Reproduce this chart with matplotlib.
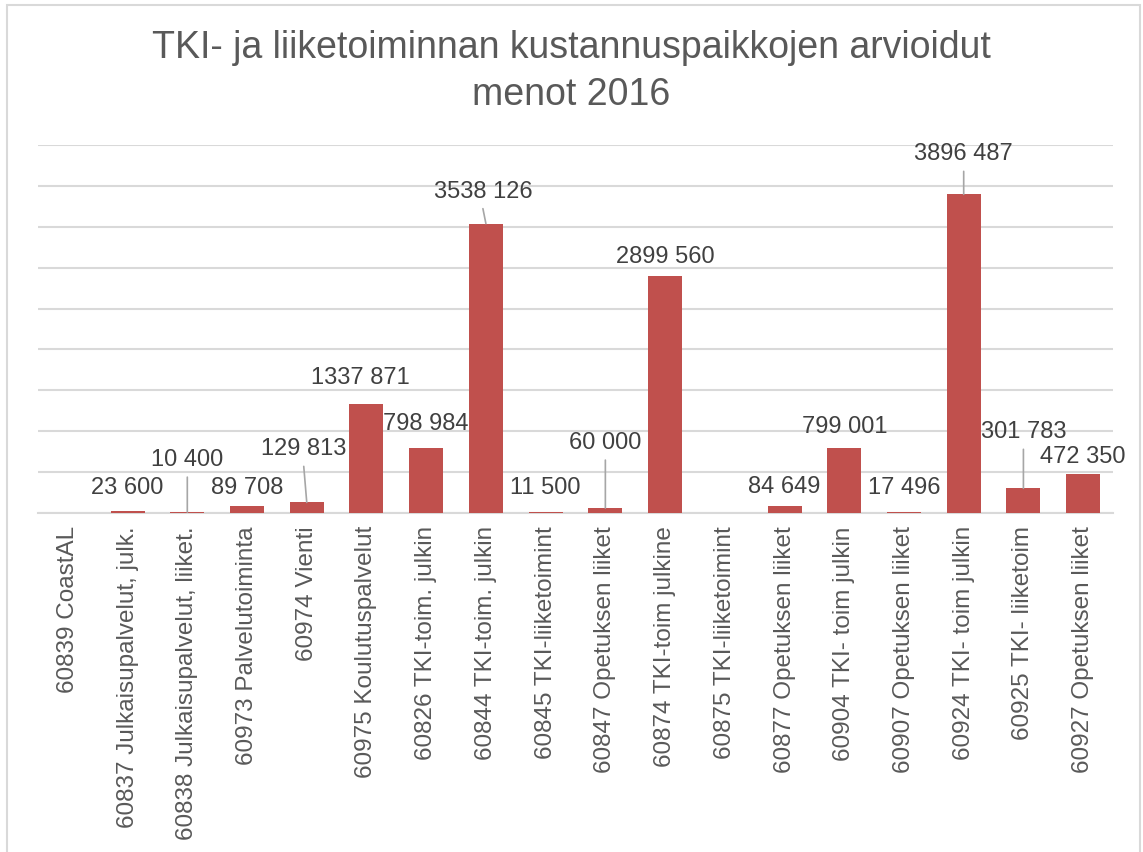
import numpy as np
import matplotlib
matplotlib.use("Agg")
import matplotlib.pyplot as plt
from matplotlib.patches import Rectangle

categories = [
    "60839 CoastAL",
    "60837 Julkaisupalvelut, julk.",
    "60838 Julkaisupalvelut, liiket.",
    "60973 Palvelutoiminta",
    "60974 Vienti",
    "60975 Koulutuspalvelut",
    "60826 TKI-toim. julkin",
    "60844 TKI-toim. julkin",
    "60845 TKI-liiketoimint",
    "60847 Opetuksen liiket",
    "60874 TKI-toim julkine",
    "60875 TKI-liiketoimint",
    "60877 Opetuksen liiket",
    "60904 TKI- toim julkin",
    "60907 Opetuksen liiket",
    "60924 TKI- toim julkin",
    "60925 TKI- liiketoim",
    "60927 Opetuksen liiket",
]
values = [None, 23600, 10400, 89708, 129813, 1337871, 798984, 3538126, 11500,
          60000, 2899560, None, 84649, 799001, 17496, 3896487, 301783, 472350]
title = "TKI- ja liiketoiminnan kustannuspaikkojen arvioidut\nmenot 2016"

# label placement (pixels: dx, dy of label centre relative to bar top centre)
label_offsets = {1: (0, 23), 2: (0, 52), 3: (0, 18), 4: (-3, 53), 5: (-6, 26),
                 6: (0, 24), 7: (-3, 32), 8: (0, 24), 9: (0, 65), 10: (0, 19),
                 12: (0, 19), 13: (0, 21), 14: (0, 24), 15: (0, 40),
                 16: (0, 56), 17: (0, 17)}
leaders = {2, 4, 7, 9, 15, 16}

def fmt(v):
    v = int(v)
    if v >= 1000:
        return f"{v // 1000} {v % 1000:03d}"
    return str(v)

plt.rcParams['font.family'] = ['Liberation Sans', 'DejaVu Sans']
W, H = 1143, 852
fig = plt.figure(figsize=(W / 100, H / 100), dpi=100)
fig.patch.set_facecolor("white")

# outer frame
fig.add_artist(Rectangle((7 / W, -0.01), (1140 - 7) / W, (H - 5) / H + 0.01,
                         transform=fig.transFigure, fill=False,
                         edgecolor="#D9D9D9", linewidth=1.5))

left, right, top, bottom = 38, 1113, 145, 513
ax = fig.add_axes([left / W, 1 - bottom / H, (right - left) / W, (bottom - top) / H])

x = np.arange(len(categories))
vals = np.array([np.nan if v is None else v for v in values], dtype=float)
ax.bar(x, np.nan_to_num(vals), width=0.57, color="#C0504D", zorder=3)

ax.set_xlim(-0.5, len(categories) - 0.5)
ax.set_ylim(0, 4500000)
ax.set_yticks(np.arange(0, 4500001, 500000))
ax.yaxis.grid(True, color="#D9D9D9", linewidth=1.5, zorder=0)
ax.tick_params(axis="y", left=False, labelleft=False)
ax.tick_params(axis="x", bottom=False, pad=6, colors="#595959")
for s in ["left", "right", "top"]:
    ax.spines[s].set_visible(False)
ax.spines["bottom"].set_color("#D9D9D9")
ax.spines["bottom"].set_linewidth(1.5)
ax.set_xticks(x)
ax.set_xticklabels(categories, rotation=90, fontsize=17.5, color="#595959",
                   ha="center", va="top")

for i, v in enumerate(vals):
    if np.isnan(v):
        continue
    dx, dy = label_offsets[i]
    ax.annotate(fmt(v), xy=(i, v), xytext=(dx, dy),
                textcoords="offset pixels", ha="center", va="center",
                fontsize=17, color="#404040", zorder=5)
    if i in leaders:
        ax.annotate("", xy=(i, v), xytext=(dx, dy - 17),
                    textcoords="offset pixels",
                    arrowprops=dict(arrowstyle="-", color="#A6A6A6", lw=1.2,
                                    shrinkA=0, shrinkB=0), zorder=4)

fig.text(0.5, 1 - 48 / H, title.split("\n")[0], ha="center", va="center",
         fontsize=27, color="#595959")
fig.text(0.5, 1 - 95 / H, title.split("\n")[1], ha="center", va="center",
         fontsize=27, color="#595959")

fig.savefig("out.png", dpi=100)
